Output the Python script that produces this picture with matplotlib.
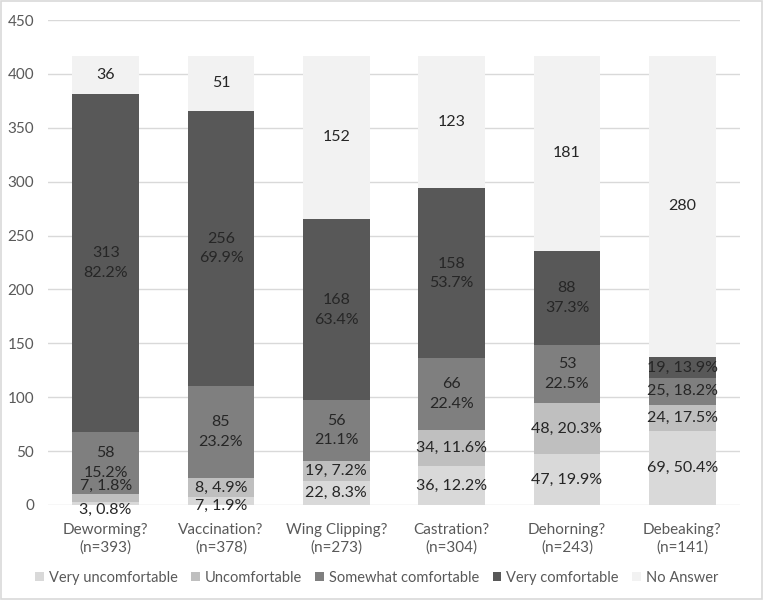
import numpy as np
import matplotlib.pyplot as plt
from matplotlib.patches import Rectangle

plt.rcParams["font.family"] = ["Lato", "DejaVu Sans"]

categories = ["Deworming?\n(n=393)", "Vaccination?\n(n=378)", "Wing Clipping?\n(n=273)",
              "Castration?\n(n=304)", "Dehorning?\n(n=243)", "Debeaking?\n(n=141)"]
series = ["Very uncomfortable", "Uncomfortable", "Somewhat comfortable",
          "Very comfortable", "No Answer"]

very_uncomf = [3, 7, 22, 36, 47, 69]
uncomf = [7, 18, 19, 34, 48, 24]
somewhat_comf = [58, 85, 56, 66, 53, 25]
very_comf = [313, 256, 168, 158, 88, 19]
no_answer = [36, 51, 152, 123, 181, 280]

pct_very_uncomf = ["0.8%", "1.9%", "8.3%", "12.2%", "19.9%", "50.4%"]
pct_uncomf = ["1.8%", "4.9%", "7.2%", "11.6%", "20.3%", "17.5%"]
pct_somewhat = ["15.2%", "23.2%", "21.1%", "22.4%", "22.5%", "18.2%"]
pct_very_comf = ["82.2%", "69.9%", "63.4%", "53.7%", "37.3%", "13.9%"]

# count printed on the chart where it differs from the segment height
shown_uncomf = [7, 8, 19, 34, 48, 24]

colors = ["#d9d9d9", "#bfbfbf", "#7f7f7f", "#585858", "#f2f2f2"]

fig = plt.figure(figsize=(7.64, 6.0), dpi=100)
ax = fig.add_axes([48 / 764, 95 / 600, 692 / 764, 485 / 600])

x = np.arange(len(categories))
stack = [very_uncomf, uncomf, somewhat_comf, very_comf, no_answer]
bottom = np.zeros(len(categories))
for vals, name, c in zip(stack, series, colors):
    ax.bar(x, vals, 0.58, bottom=bottom, color=c, label=name, zorder=2)
    bottom += np.array(vals)

txt = dict(ha="center", va="center", fontsize=11.5, color="#262626", zorder=3)
for i in range(len(categories)):
    b0 = 0
    # very uncomfortable
    y = very_uncomf[i] / 2
    if very_uncomf[i] < 10:
        y = -5 if i == 0 else -1
    ax.text(i, y, f"{very_uncomf[i]}, {pct_very_uncomf[i]}", **txt)
    b0 += very_uncomf[i]
    # uncomfortable
    y = b0 + uncomf[i] / 2
    if uncomf[i] < 10:
        y = 18
    ax.text(i, y, f"{shown_uncomf[i]}, {pct_uncomf[i]}", **txt)
    b0 += uncomf[i]
    for vals, pcts in ((somewhat_comf, pct_somewhat), (very_comf, pct_very_comf)):
        y = b0 + vals[i] / 2
        if vals[i] >= 50:
            ax.text(i, y, f"{vals[i]}\n{pcts[i]}", linespacing=1.5, **txt)
        else:
            ax.text(i, y, f"{vals[i]}, {pcts[i]}", **txt)
        b0 += vals[i]
    ax.text(i, b0 + no_answer[i] / 2, f"{no_answer[i]}", **txt)

ax.set_xlim(-0.5, len(categories) - 0.5)
ax.set_ylim(0, 450)
ax.set_yticks(np.arange(0, 451, 50))
ax.set_xticks(x)
ax.set_xticklabels(categories, fontsize=11, color="#595959", linespacing=1.25)
ax.tick_params(axis="y", labelsize=11, labelcolor="#595959", length=0, pad=10)
ax.tick_params(axis="x", length=0, pad=13)
ax.grid(axis="y", color="#d9d9d9", linewidth=1, zorder=0)
for s in ax.spines.values():
    s.set_visible(False)

ax.legend(loc="center", bbox_to_anchor=(0.475, -0.15), ncol=5, frameon=False,
          fontsize=10.5, handlelength=0.6, handleheight=0.6, columnspacing=0.9,
          handletextpad=0.35, labelcolor="#595959")

fig.patches.append(Rectangle((0.001, 0.001), 0.997, 0.997, transform=fig.transFigure,
                             fill=False, edgecolor="#d9d9d9", linewidth=1.2))

fig.savefig("out.png", dpi=100)
